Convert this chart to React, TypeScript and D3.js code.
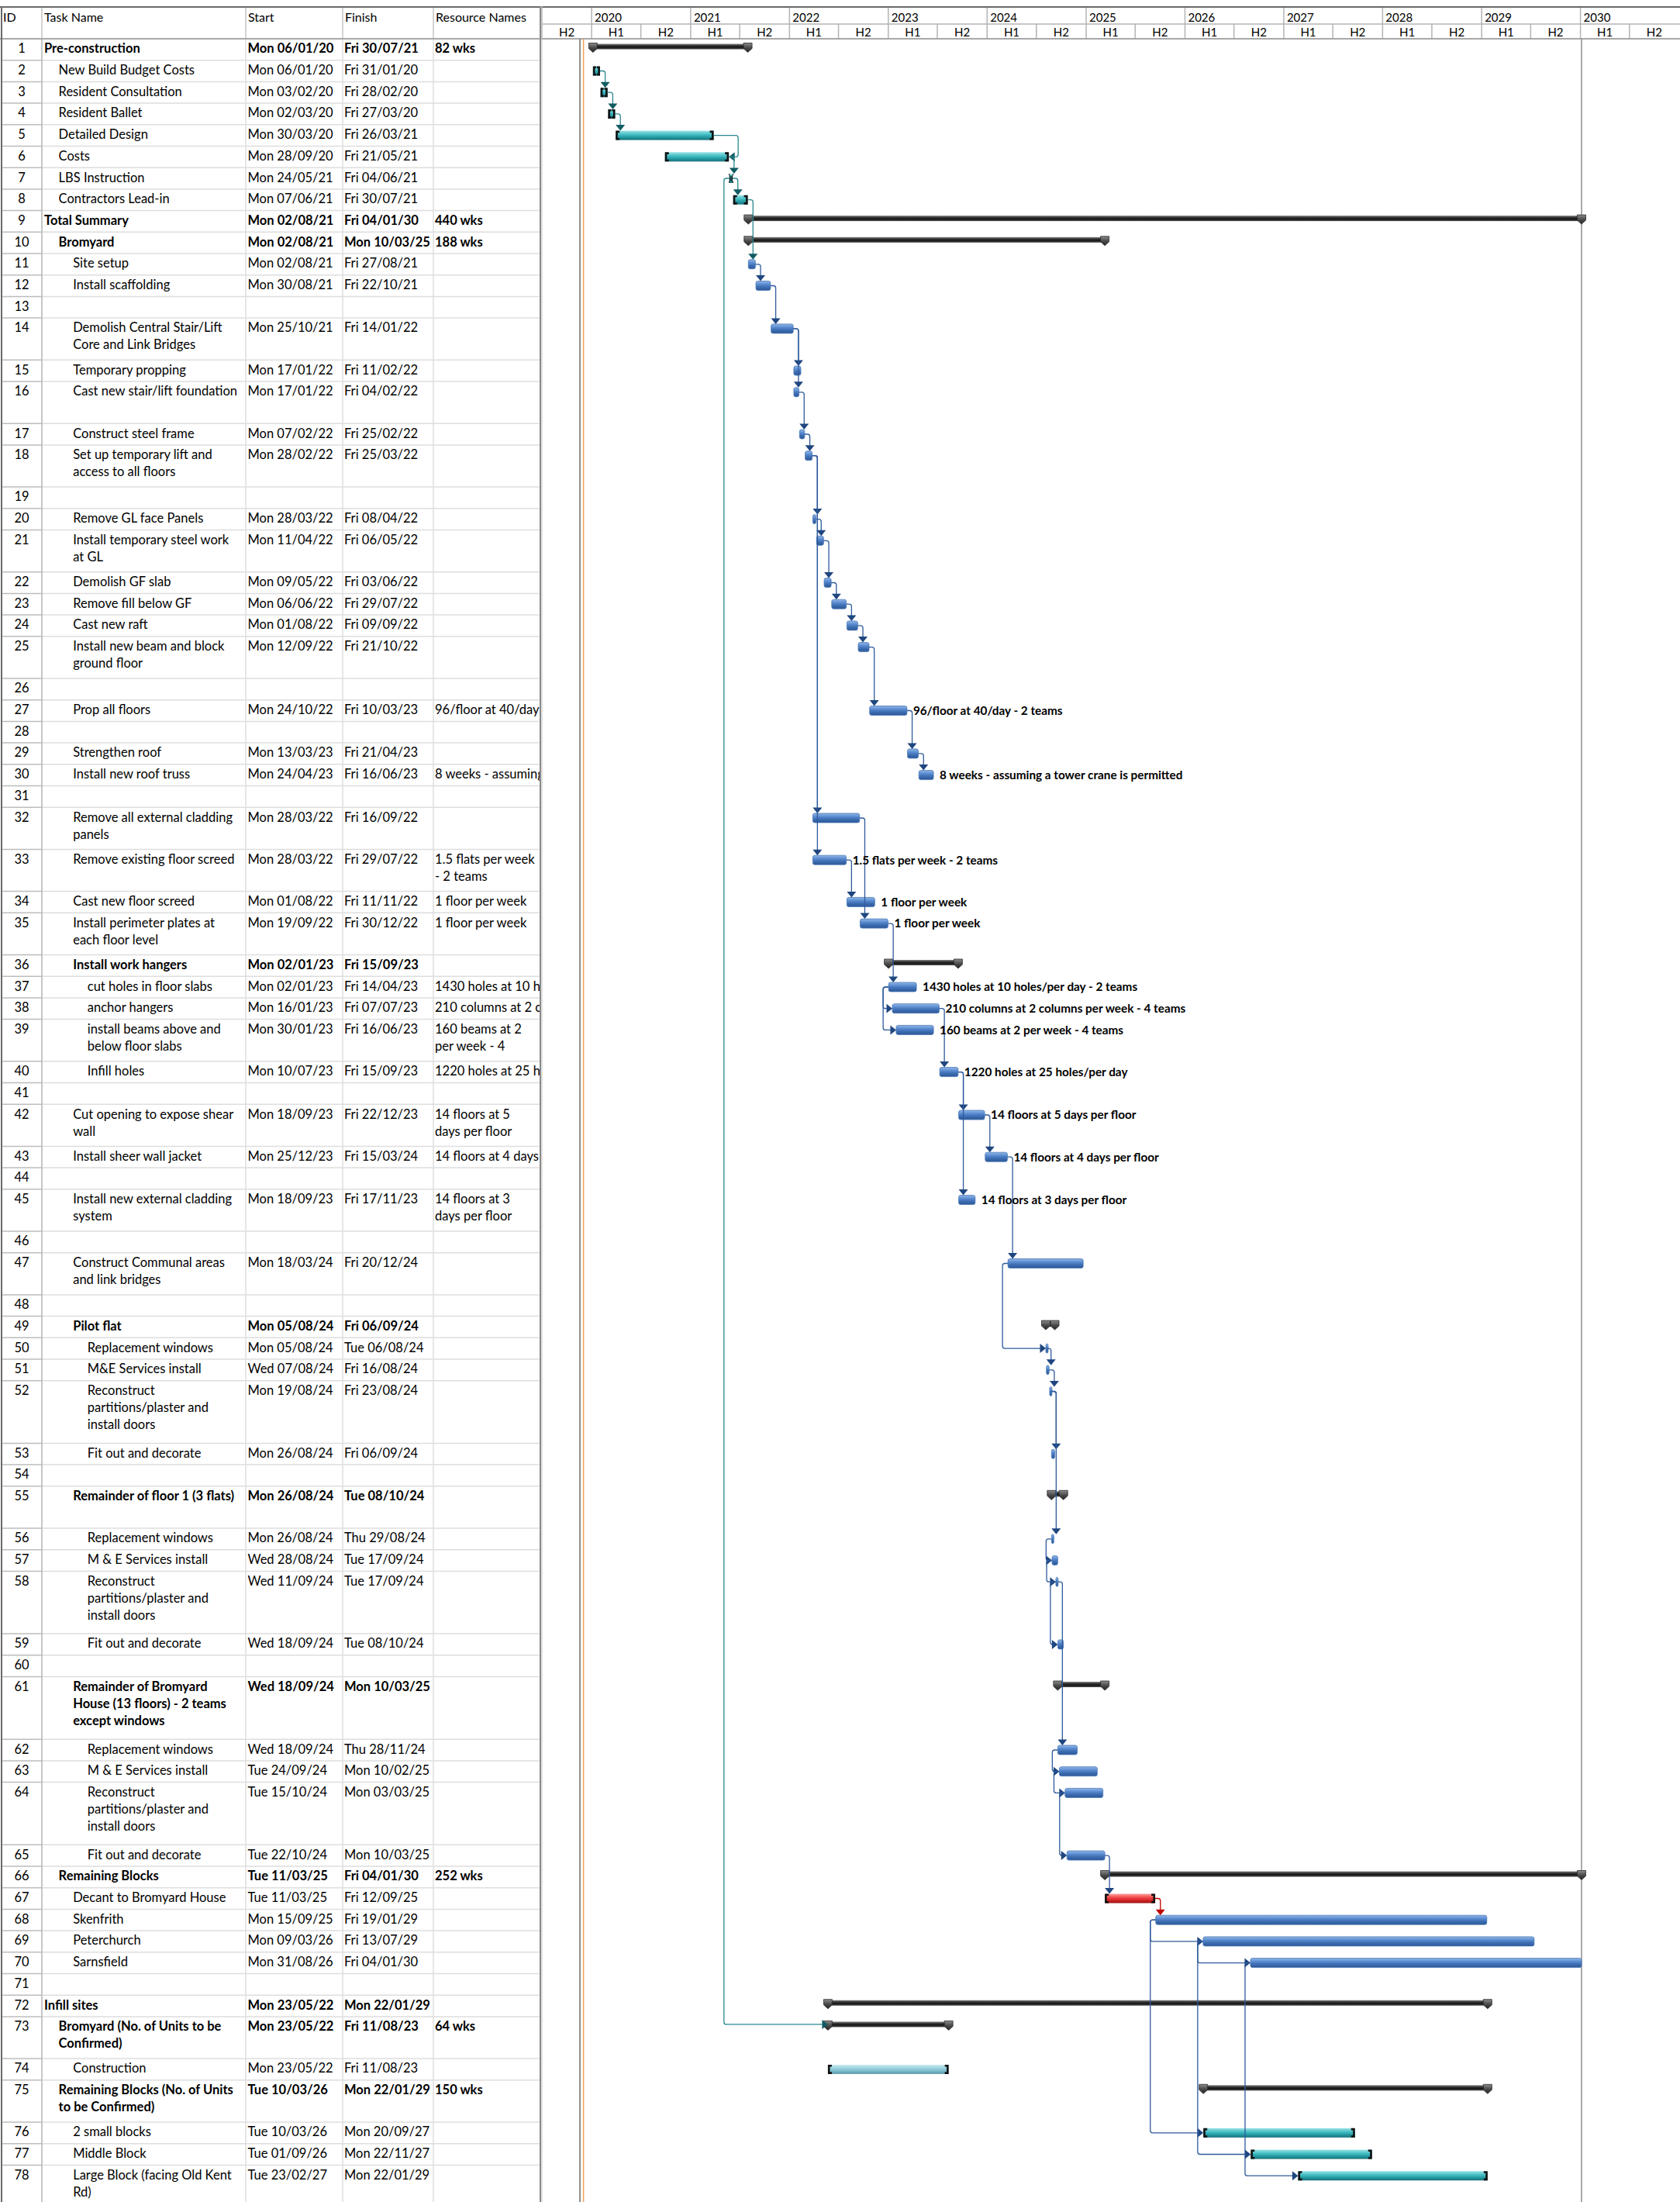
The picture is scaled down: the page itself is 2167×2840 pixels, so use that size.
import React, { useEffect, useRef } from "react";
import * as d3 from "d3";

const W = 2167;
const H = 2840;

// ---- table data (one entry per row, ID = index + 1) ----
const taskNames = [
  "Pre-construction", "New Build Budget Costs", "Resident Consultation", "Resident Ballet",
  "Detailed Design", "Costs", "LBS Instruction", "Contractors Lead-in", "Total Summary", "Bromyard",
  "Site setup", "Install scaffolding", "", "Demolish Central Stair/Lift\nCore and Link Bridges",
  "Temporary propping", "Cast new stair/lift foundation", "Construct steel frame",
  "Set up temporary lift and\naccess to all floors", "", "Remove GL face Panels",
  "Install temporary steel work\nat GL", "Demolish GF slab", "Remove fill below GF", "Cast new raft",
  "Install new beam and block\nground floor", "", "Prop all floors", "", "Strengthen roof",
  "Install new roof truss", "", "Remove all external cladding\npanels", "Remove existing floor screed",
  "Cast new floor screed", "Install perimeter plates at\neach floor level", "Install work hangers",
  "cut holes in floor slabs", "anchor hangers", "install beams above and\nbelow floor slabs",
  "Infill holes", "", "Cut opening to expose shear\nwall", "Install sheer wall jacket", "",
  "Install new external cladding\nsystem", "", "Construct Communal areas\nand link bridges", "",
  "Pilot flat", "Replacement windows", "M&E Services install",
  "Reconstruct\npartitions/plaster and\ninstall doors", "Fit out and decorate", "",
  "Remainder of floor 1 (3 flats)", "Replacement windows", "M & E Services install",
  "Reconstruct\npartitions/plaster and\ninstall doors", "Fit out and decorate", "",
  "Remainder of Bromyard\nHouse (13 floors) - 2 teams\nexcept windows", "Replacement windows",
  "M & E Services install", "Reconstruct\npartitions/plaster and\ninstall doors", "Fit out and decorate",
  "Remaining Blocks", "Decant to Bromyard House", "Skenfrith", "Peterchurch", "Sarnsfield", "",
  "Infill sites", "Bromyard (No. of Units to be\nConfirmed)", "Construction",
  "Remaining Blocks (No. of Units\nto be Confirmed)", "2 small blocks", "Middle Block",
  "Large Block (facing Old Kent\nRd)",
];

const startText = [
  "Mon 06/01/20", "Mon 06/01/20", "Mon 03/02/20", "Mon 02/03/20", "Mon 30/03/20", "Mon 28/09/20",
  "Mon 24/05/21", "Mon 07/06/21", "Mon 02/08/21", "Mon 02/08/21", "Mon 02/08/21", "Mon 30/08/21", "",
  "Mon 25/10/21", "Mon 17/01/22", "Mon 17/01/22", "Mon 07/02/22", "Mon 28/02/22", "", "Mon 28/03/22",
  "Mon 11/04/22", "Mon 09/05/22", "Mon 06/06/22", "Mon 01/08/22", "Mon 12/09/22", "", "Mon 24/10/22", "",
  "Mon 13/03/23", "Mon 24/04/23", "", "Mon 28/03/22", "Mon 28/03/22", "Mon 01/08/22", "Mon 19/09/22",
  "Mon 02/01/23", "Mon 02/01/23", "Mon 16/01/23", "Mon 30/01/23", "Mon 10/07/23", "", "Mon 18/09/23",
  "Mon 25/12/23", "", "Mon 18/09/23", "", "Mon 18/03/24", "", "Mon 05/08/24", "Mon 05/08/24",
  "Wed 07/08/24", "Mon 19/08/24", "Mon 26/08/24", "", "Mon 26/08/24", "Mon 26/08/24", "Wed 28/08/24",
  "Wed 11/09/24", "Wed 18/09/24", "", "Wed 18/09/24", "Wed 18/09/24", "Tue 24/09/24", "Tue 15/10/24",
  "Tue 22/10/24", "Tue 11/03/25", "Tue 11/03/25", "Mon 15/09/25", "Mon 09/03/26", "Mon 31/08/26", "",
  "Mon 23/05/22", "Mon 23/05/22", "Mon 23/05/22", "Tue 10/03/26", "Tue 10/03/26", "Tue 01/09/26",
  "Tue 23/02/27",
];

const finishText = [
  "Fri 30/07/21", "Fri 31/01/20", "Fri 28/02/20", "Fri 27/03/20", "Fri 26/03/21", "Fri 21/05/21",
  "Fri 04/06/21", "Fri 30/07/21", "Fri 04/01/30", "Mon 10/03/25", "Fri 27/08/21", "Fri 22/10/21", "",
  "Fri 14/01/22", "Fri 11/02/22", "Fri 04/02/22", "Fri 25/02/22", "Fri 25/03/22", "", "Fri 08/04/22",
  "Fri 06/05/22", "Fri 03/06/22", "Fri 29/07/22", "Fri 09/09/22", "Fri 21/10/22", "", "Fri 10/03/23", "",
  "Fri 21/04/23", "Fri 16/06/23", "", "Fri 16/09/22", "Fri 29/07/22", "Fri 11/11/22", "Fri 30/12/22",
  "Fri 15/09/23", "Fri 14/04/23", "Fri 07/07/23", "Fri 16/06/23", "Fri 15/09/23", "", "Fri 22/12/23",
  "Fri 15/03/24", "", "Fri 17/11/23", "", "Fri 20/12/24", "", "Fri 06/09/24", "Tue 06/08/24",
  "Fri 16/08/24", "Fri 23/08/24", "Fri 06/09/24", "", "Tue 08/10/24", "Thu 29/08/24", "Tue 17/09/24",
  "Tue 17/09/24", "Tue 08/10/24", "", "Mon 10/03/25", "Thu 28/11/24", "Mon 10/02/25", "Mon 03/03/25",
  "Mon 10/03/25", "Fri 04/01/30", "Fri 12/09/25", "Fri 19/01/29", "Fri 13/07/29", "Fri 04/01/30", "",
  "Mon 22/01/29", "Fri 11/08/23", "Fri 11/08/23", "Mon 22/01/29", "Mon 20/09/27", "Mon 22/11/27",
  "Mon 22/01/29",
];

const resourceNames: Record<number, string> = {
  1: "82 wks", 9: "440 wks", 10: "188 wks",
  27: "96/floor at 40/day - 2 teams",
  30: "8 weeks - assuming a tower crane is permitted",
  33: "1.5 flats per week - 2 teams",
  34: "1 floor per week", 35: "1 floor per week",
  37: "1430 holes at 10 holes/per day - 2 teams",
  38: "210 columns at 2 columns per week - 4 teams",
  39: "160 beams at 2 per week - 4 teams",
  40: "1220 holes at 25 holes/per day",
  42: "14 floors at 5 days per floor",
  43: "14 floors at 4 days per floor",
  45: "14 floors at 3 days per floor",
  66: "252 wks", 73: "64 wks", 75: "150 wks",
};

const outlineLevel = [
  0, 1, 1, 1, 1, 1, 1, 1, 0, 1, 2, 2, 2, 2, 2, 2, 2, 2, 2, 2, 2, 2, 2, 2, 2, 2, 2, 2, 2, 2,
  2, 2, 2, 2, 2, 2, 3, 3, 3, 3, 2, 2, 2, 2, 2, 2, 2, 2, 2, 3, 3, 3, 3, 2, 2, 3, 3, 3, 3, 2,
  2, 3, 3, 3, 3, 1, 2, 2, 2, 2, 2, 0, 1, 2, 1, 2, 2, 2,
];

const rowLines = [
  1, 1, 1, 1, 1, 1, 1, 1, 1, 1, 1, 1, 1, 2, 1, 2, 1, 2, 1, 1, 2, 1, 1, 1, 2, 1, 1, 1, 1, 1,
  1, 2, 2, 1, 2, 1, 1, 1, 2, 1, 1, 2, 1, 1, 2, 1, 2, 1, 1, 1, 1, 3, 1, 1, 2, 1, 1, 3, 1, 1,
  3, 1, 1, 3, 1, 1, 1, 1, 1, 1, 1, 1, 2, 1, 2, 1, 1, 2,
];

const summaryIds = [1, 9, 10, 36, 49, 55, 61, 66, 72, 73, 75];
const manualTealIds = [2, 3, 4, 5, 6, 7, 8, 76, 77, 78];
const manualLightIds = [74];
const criticalIds = [67];

// [predecessor, successor, type]
const links: [number, number, string][] = [
  [2, 3, "FS"], [3, 4, "FS"], [4, 5, "FS"], [5, 6, "FF"], [6, 7, "FS"], [7, 8, "FS"], [7, 73, "SS"],
  [8, 11, "FS"], [11, 12, "FS"], [12, 14, "FS"], [14, 15, "FS"], [14, 16, "FS"], [16, 17, "FS"],
  [17, 18, "FS"], [18, 20, "FS"], [18, 32, "FS"], [18, 33, "FS"], [20, 21, "FS"], [21, 22, "FS"],
  [22, 23, "FS"], [23, 24, "FS"], [24, 25, "FS"], [25, 27, "FS"], [27, 29, "FS"], [29, 30, "FS"],
  [32, 35, "FS"], [33, 34, "FS"], [35, 37, "FS"], [37, 38, "SS"], [37, 39, "SS"], [38, 40, "FS"],
  [40, 42, "FS"], [40, 45, "FS"], [42, 43, "FS"], [43, 47, "FS"], [47, 50, "SS"], [50, 51, "FS"],
  [51, 52, "FS"], [52, 53, "FS"], [52, 56, "FS"], [56, 57, "SS"], [57, 58, "SS"], [58, 59, "SS"],
  [58, 62, "FS"], [62, 63, "SS"], [63, 64, "SS"], [64, 65, "SS"], [65, 67, "FS"], [67, 68, "FS"],
  [68, 69, "SS"], [68, 76, "SS"], [69, 70, "SS"], [69, 77, "SS"], [70, 78, "SS"],
];

const headerLabels = ["ID", "Task Name", "Start", "Finish", "Resource Names"];
const markerDates = ["2019-11-19", "2019-12-02"]; // grey + orange lines near project start

const FONT = "Lato, 'Open Sans', sans-serif";

export default function App() {
  const ref = useRef<SVGSVGElement>(null);

  useEffect(() => {
    drawChart();
  }, []);

  function drawChart() {
    const svg = d3.select(ref.current);
    svg.selectAll("*").remove();

    const parse = d3.timeParse("%d/%m/%y");
    const toDate = (s: string) => (s ? parse(s.slice(4)) : null);

    // columns
    const colX = [2, 54, 317, 442, 559, 697];
    const chartLeft = 699;

    const x = d3
      .scaleTime()
      .domain([new Date(2020, 0, 1), new Date(2030, 0, 1)])
      .range([763.1, 2038.6]);

    // rows
    const headTop = 10, headMid = 31, headBottom = 50;
    const rowH = 27.7, extra = 26.5;
    const rowTop: number[] = [];
    let yy = headBottom;
    rowLines.forEach((n, i) => {
      rowTop[i] = yy;
      yy += rowH + (n - 1) * extra;
    });

    // gradients
    const defs = svg.append("defs");
    const grad = (id: string, stops: [number, string][]) => {
      const g = defs.append("linearGradient").attr("id", id).attr("x1", 0).attr("y1", 0).attr("x2", 0).attr("y2", 1);
      stops.forEach(([o, c]) => g.append("stop").attr("offset", o).attr("stop-color", c));
    };
    grad("gBlue", [[0, "#93b7e6"], [0.35, "#5b8cd1"], [0.6, "#4171b6"], [1, "#2b5796"]]);
    grad("gTeal", [[0, "#9be3e6"], [0.4, "#45bec4"], [0.65, "#29a0a8"], [1, "#16707a"]]);
    grad("gLight", [[0, "#cdeaf1"], [0.4, "#98d0dd"], [0.7, "#7ab9c9"], [1, "#5a98aa"]]);
    grad("gRed", [[0, "#ffa0a0"], [0.4, "#f04848"], [0.65, "#d92b2b"], [1, "#9e1010"]]);
    grad("gSum", [[0, "#8a8a8a"], [0.3, "#3c3c3c"], [0.6, "#151515"], [1, "#4a4a4a"]]);
    grad("gCap", [[0, "#8c8c8c"], [0.5, "#4a4a4a"], [1, "#262626"]]);

    defs.append("clipPath").attr("id", "clipName").append("rect")
      .attr("x", colX[1]).attr("y", 0).attr("width", colX[2] - colX[1] - 1).attr("height", H);
    defs.append("clipPath").attr("id", "clipRes").append("rect")
      .attr("x", colX[4]).attr("y", 0).attr("width", colX[5] - colX[4] - 1).attr("height", H);

    svg.append("rect").attr("width", W).attr("height", H).attr("fill", "#fff");

    // ---------- table ----------
    const table = svg.append("g").attr("font-family", FONT).attr("font-size", 16.5).attr("fill", "#000");

    rowTop.forEach((t, i) => {
      const b = t + rowH + (rowLines[i] - 1) * extra;
      table.append("line").attr("x1", colX[1]).attr("x2", colX[5]).attr("y1", b).attr("y2", b)
        .attr("stroke", "#dedede").attr("stroke-width", 1.5);
      table.append("line").attr("x1", colX[0]).attr("x2", colX[1]).attr("y1", b).attr("y2", b)
        .attr("stroke", "#bdbdbd").attr("stroke-width", 1.5);
    });
    colX.slice(2, 5).forEach((cx) =>
      table.append("line").attr("x1", cx).attr("x2", cx).attr("y1", headBottom).attr("y2", H)
        .attr("stroke", "#dedede").attr("stroke-width", 1.5)
    );
    table.append("line").attr("x1", colX[1]).attr("x2", colX[1]).attr("y1", headBottom).attr("y2", H)
      .attr("stroke", "#b5b5b5").attr("stroke-width", 1.5);

    // canvas for measuring resource text wrap
    const ctx = document.createElement("canvas").getContext("2d") as CanvasRenderingContext2D;
    const wrap = (text: string, font: string, maxW: number) => {
      ctx.font = font;
      const words = text.split(" ");
      const out: string[] = [];
      let line = "";
      words.forEach((w) => {
        const test = line ? line + " " + w : w;
        if (ctx.measureText(test).width > maxW && line) {
          out.push(line);
          line = w;
        } else line = test;
      });
      if (line) out.push(line);
      return out;
    };

    taskNames.forEach((name, i) => {
      const id = i + 1;
      const t = rowTop[i];
      const bold = summaryIds.includes(id);
      const weight = bold ? "bold" : "normal";
      const base = t + 18.3;
      table.append("text").attr("x", 28).attr("y", base).attr("text-anchor", "middle").text(id);
      name.split("\n").forEach((ln, k) =>
        table.append("text").attr("clip-path", "url(#clipName)").attr("x", 57 + outlineLevel[i] * 18.6)
          .attr("y", base + k * 22).attr("font-weight", weight).text(ln)
      );
      if (startText[i]) {
        table.append("text").attr("x", 319.5).attr("y", base).attr("font-weight", weight).text(startText[i]);
        table.append("text").attr("x", 444).attr("y", base).attr("font-weight", weight).text(finishText[i]);
      }
      const res = resourceNames[id];
      if (res) {
        const font = `${weight} 16.5px Lato`;
        const lines = rowLines[i] > 1 ? wrap(res, font, colX[5] - colX[4] - 5).slice(0, rowLines[i]) : [res];
        lines.forEach((ln, k) =>
          table.append("text").attr("clip-path", "url(#clipRes)").attr("x", 561)
            .attr("y", base + k * 22).attr("font-weight", weight).text(ln)
        );
      }
    });

    // ---------- header ----------
    const head = svg.append("g").attr("font-family", FONT).attr("fill", "#000");
    head.append("rect").attr("x", 0).attr("y", headTop).attr("width", W).attr("height", headBottom - headTop).attr("fill", "#fff");
    headerLabels.forEach((lab, k) =>
      head.append("text").attr("x", colX[k] + (k === 0 ? 2 : 3)).attr("y", 28).attr("font-size", 16).text(lab)
    );
    colX.slice(1, 5).forEach((cx) =>
      head.append("line").attr("x1", cx).attr("x2", cx).attr("y1", headTop).attr("y2", headBottom)
        .attr("stroke", "#c4c4c4").attr("stroke-width", 1.5)
    );

    // timescale header
    const years = d3.timeYear.range(new Date(2019, 0, 1), new Date(2031, 0, 1));
    years.forEach((d) => {
      const x0 = Math.max(chartLeft, x(d));
      head.append("line").attr("x1", x0).attr("x2", x0).attr("y1", headTop).attr("y2", headMid)
        .attr("stroke", "#b4b4b4").attr("stroke-width", 1.5);
      if (d.getFullYear() >= 2020)
        head.append("text").attr("x", x0 + 4).attr("y", 27.5).attr("font-size", 15).text(d3.timeFormat("%Y")(d));
    });
    const halves = d3.timeMonth.every(6)!.range(new Date(2019, 6, 1), new Date(2031, 0, 1));
    halves.forEach((d) => {
      const x0 = Math.max(chartLeft, x(d));
      const x1 = Math.min(W, x(d3.timeMonth.offset(d, 6)));
      head.append("line").attr("x1", x0).attr("x2", x0).attr("y1", headMid).attr("y2", headBottom)
        .attr("stroke", "#b4b4b4").attr("stroke-width", 1.5);
      head.append("text").attr("x", (x0 + x1) / 2).attr("y", 46.5).attr("text-anchor", "middle")
        .attr("font-size", 15).text(d.getMonth() < 6 ? "H1" : "H2");
    });
    head.append("line").attr("x1", chartLeft).attr("x2", W).attr("y1", headMid).attr("y2", headMid)
      .attr("stroke", "#b4b4b4").attr("stroke-width", 1.5);
    head.append("line").attr("x1", 0).attr("x2", W).attr("y1", headBottom).attr("y2", headBottom)
      .attr("stroke", "#a8a8a8").attr("stroke-width", 2);
    head.append("line").attr("x1", 0).attr("x2", W).attr("y1", 9).attr("y2", 9)
      .attr("stroke", "#6a6a6a").attr("stroke-width", 2);

    // outer borders and divider
    svg.append("line").attr("x1", 2).attr("x2", 2).attr("y1", 8).attr("y2", H).attr("stroke", "#6a6a6a").attr("stroke-width", 2);
    svg.append("line").attr("x1", colX[5]).attr("x2", colX[5]).attr("y1", 8).attr("y2", H).attr("stroke", "#8a8a8a").attr("stroke-width", 2);
    svg.append("line").attr("x1", chartLeft).attr("x2", chartLeft).attr("y1", 8).attr("y2", H).attr("stroke", "#c8c8c8").attr("stroke-width", 1);

    // ---------- chart ----------
    const chart = svg.append("g");
    const mk0 = new Date(markerDates[0]), mk1 = new Date(markerDates[1]);
    chart.append("line").attr("x1", x(mk0)).attr("x2", x(mk0)).attr("y1", headBottom).attr("y2", H)
      .attr("stroke", "#8e8e8e").attr("stroke-width", 2);
    chart.append("line").attr("x1", x(mk1)).attr("x2", x(mk1)).attr("y1", headBottom).attr("y2", H)
      .attr("stroke", "#f5a25d").attr("stroke-width", 1.5);

    const bars: Record<number, { x0: number; x1: number; c: number }> = {};
    taskNames.forEach((_, i) => {
      const s = toDate(startText[i]);
      const f = toDate(finishText[i]);
      if (!s || !f) return;
      const id = i + 1;
      const isSum = summaryIds.includes(id);
      bars[id] = { x0: x(s), x1: x(d3.timeDay.offset(f, 1)), c: rowTop[i] + (isSum ? 10 : 13.8) };
    });

    const finishLineX = d3.max(Object.values(bars), (b) => b.x1)!;
    chart.append("line").attr("x1", finishLineX).attr("x2", finishLineX).attr("y1", headBottom).attr("y2", H)
      .attr("stroke", "#8e8e8e").attr("stroke-width", 1.5);

    Object.entries(bars).forEach(([k, b]) => {
      const id = +k;
      const t = rowTop[id - 1];
      if (summaryIds.includes(id)) {
        chart.append("rect").attr("x", b.x0).attr("y", t + 6.5).attr("width", b.x1 - b.x0).attr("height", 7)
          .attr("fill", "url(#gSum)");
        [b.x0, b.x1].forEach((cx) =>
          chart.append("path")
            .attr("d", `M${cx - 5.5},${t + 5.5}H${cx + 5.5}V${t + 12.5}L${cx},${t + 17.5}L${cx - 5.5},${t + 12.5}Z`)
            .attr("fill", "url(#gCap)").attr("stroke", "#2a2a2a").attr("stroke-width", 0.8)
        );
        return;
      }
      const w = Math.max(3, b.x1 - b.x0);
      const y0 = b.c - 6;
      const manual = manualTealIds.includes(id) || manualLightIds.includes(id) || criticalIds.includes(id);
      if (manual) {
        const fill = criticalIds.includes(id) ? "url(#gRed)" : manualLightIds.includes(id) ? "url(#gLight)" : "url(#gTeal)";
        chart.append("rect").attr("x", b.x0).attr("y", y0).attr("width", w).attr("height", 12).attr("fill", fill);
        const L = b.x0, R = b.x0 + w;
        chart.append("path")
          .attr("d", `M${L},${y0}h5v2.6h-2.4v6.8h2.4v2.6h-5Z M${R},${y0}h-5v2.6h2.4v6.8h-2.4v2.6h5Z`)
          .attr("fill", "#111");
      } else {
        chart.append("rect").attr("x", b.x0).attr("y", y0).attr("width", w).attr("height", 12)
          .attr("rx", 2.5).attr("fill", "url(#gBlue)").attr("stroke", "#4a78b8").attr("stroke-width", 0.8);
      }
    });

    // ---------- dependency links ----------
    const linkColor = (id: number) =>
      criticalIds.includes(id) ? ["#c00000", "#c00000"]
        : manualTealIds.slice(0, 7).includes(id) ? ["#2a8890", "#115c63"]
        : ["#2f5b9c", "#1f467f"];
    const r = 3;
    links.forEach(([a, b, type]) => {
      const pa = bars[a], pb = bars[b];
      if (!pa || !pb) return;
      const [lc, ac] = linkColor(a);
      const y1 = pa.c, y2 = pb.c;
      let d = "", arrow = "";
      if (type === "FS") {
        const xa = Math.max(pa.x1, pb.x0) + 6;
        const tip = y2 - 6;
        d = `M${pa.x1},${y1}H${xa - r}Q${xa},${y1} ${xa},${y1 + r}V${tip - 6}`;
        arrow = `M${xa},${tip}L${xa - 6},${tip - 7.5}L${xa + 6},${tip - 7.5}Z`;
      } else if (type === "SS") {
        const xl = Math.min(pa.x0, pb.x0) - 7;
        d = `M${pa.x0},${y1}H${xl + r}Q${xl},${y1} ${xl},${y1 + r}V${y2 - r}Q${xl},${y2} ${xl + r},${y2}H${pb.x0 - 6}`;
        arrow = `M${pb.x0},${y2}L${pb.x0 - 7.5},${y2 - 6}L${pb.x0 - 7.5},${y2 + 6}Z`;
      } else {
        const xr = Math.max(pa.x1, pb.x1) + 12;
        d = `M${pa.x1},${y1}H${xr - r}Q${xr},${y1} ${xr},${y1 + r}V${y2 - r}Q${xr},${y2} ${xr - r},${y2}H${pb.x1 + 6}`;
        arrow = `M${pb.x1},${y2}L${pb.x1 + 7.5},${y2 - 6}L${pb.x1 + 7.5},${y2 + 6}Z`;
      }
      chart.append("path").attr("d", d).attr("fill", "none").attr("stroke", lc).attr("stroke-width", 1.3);
      chart.append("path").attr("d", arrow).attr("fill", ac);
    });

    // ---------- bar labels ----------
    Object.entries(bars).forEach(([k, b]) => {
      const id = +k;
      const res = resourceNames[id];
      if (!res || summaryIds.includes(id)) return;
      chart.append("text").attr("x", b.x1 + 8).attr("y", b.c + 5.3).attr("font-family", FONT)
        .attr("font-size", 15.3).attr("font-weight", "bold").attr("fill", "#000").text(res);
    });
  }

  return (
    <svg ref={ref} width={W} height={H} style={{ position: "absolute", left: 0, top: 0, background: "#fff" }} />
  );
}
